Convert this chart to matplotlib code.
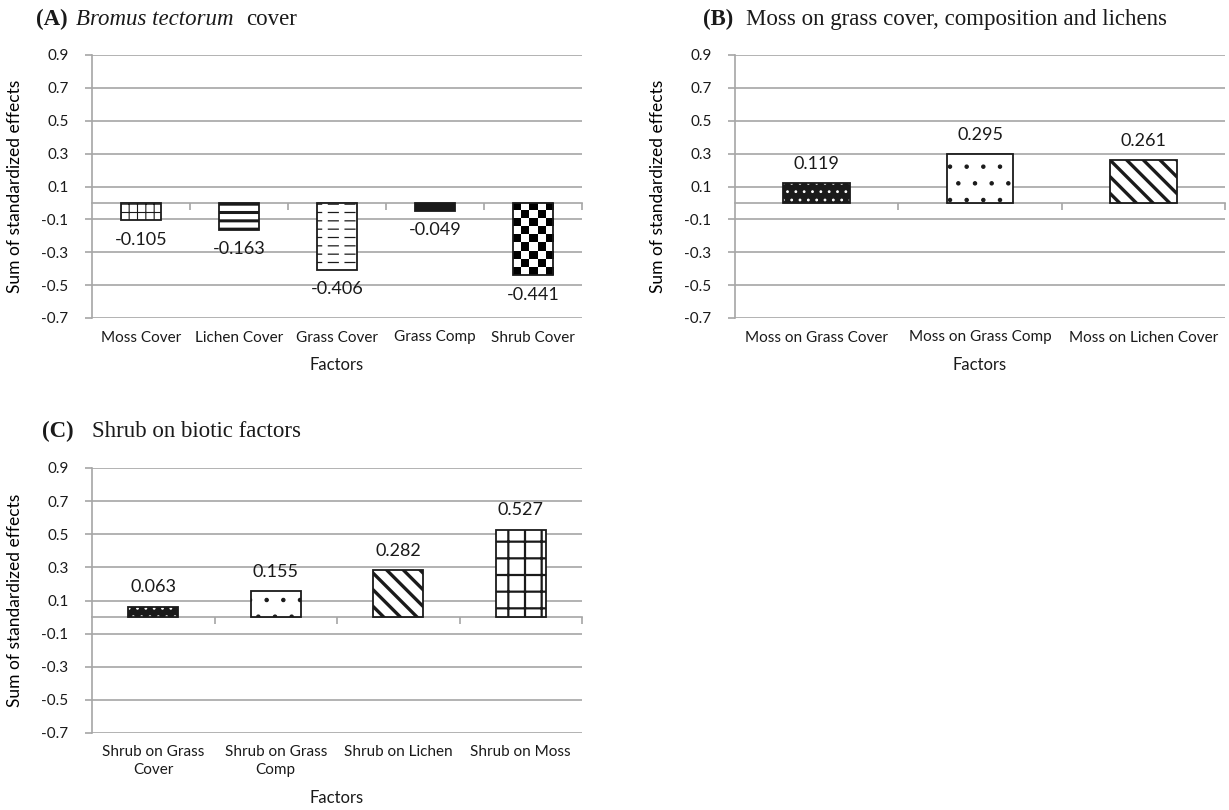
import numpy as np
import matplotlib
matplotlib.use("Agg")
import matplotlib.pyplot as plt

W, H = 1229, 810

INK = "#1a1a1a"
GRID = "#a6a6a6"
SERIF = ["Liberation Serif", "DejaVu Serif"]
plt.rcParams["font.family"] = ["Lato", "DejaVu Sans"]
plt.rcParams["text.color"] = INK

# (A) Bromus tectorum cover
a_factors = ["Moss Cover", "Lichen Cover", "Grass Cover", "Grass Comp", "Shrub Cover"]
a_values = [-0.105, -0.163, -0.406, -0.049, -0.441]
a_fills = ["smallgrid", "hbars", "dashes", "solid", "checker"]

# (B) moss on grass cover, composition and lichens
b_factors = ["Moss on Grass Cover", "Moss on Grass Comp", "Moss on Lichen Cover"]
b_values = [0.119, 0.295, 0.261]
b_fills = ["darkdots", "dots", "diag"]

# (C) shrub on biotic factors
c_factors = ["Shrub on Grass\nCover", "Shrub on Grass\nComp", "Shrub on Lichen", "Shrub on Moss"]
c_values = [0.063, 0.155, 0.282, 0.527]
c_fills = ["darkdots", "dots", "diag", "grid"]

y_ticks = [0.9, 0.7, 0.5, 0.3, 0.1, -0.1, -0.3, -0.5, -0.7]

BAR_W = 0.41
TITLE_SIZE = 16.5


def px_box(left, top, right, bottom):
    """Axes rectangle from pixel edges (origin top-left)."""
    return [left / W, 1 - bottom / H, (right - left) / W, (bottom - top) / H]


def hatched_bar(ax, x, v, hatch, color, hatch_lw, face="none"):
    with plt.rc_context({"hatch.linewidth": hatch_lw}):
        bar = ax.bar(x, v, BAR_W, facecolor=face, edgecolor=color,
                     hatch=hatch, linewidth=0, zorder=3)[0]
    if hasattr(bar, "set_hatch_linewidth"):
        bar.set_hatch_linewidth(hatch_lw)
    return bar


def checkerboard(ax, bar, ncols=5):
    x0, w = bar.get_x(), bar.get_width()
    y_hi = max(bar.get_y(), bar.get_y() + bar.get_height())
    y_lo = min(bar.get_y(), bar.get_y() + bar.get_height())
    to_px = ax.transData.transform
    px_w = to_px((x0 + w, 0))[0] - to_px((x0, 0))[0]
    px_per_unit = to_px((0, 1))[1] - to_px((0, 0))[1]
    sq = px_w / ncols / px_per_unit
    nrows = int(np.ceil((y_hi - y_lo) / sq))
    board = np.indices((nrows, ncols)).sum(axis=0) % 2
    im = ax.imshow(board, cmap="gray", vmin=0, vmax=1, origin="upper",
                   extent=(x0, x0 + w, y_hi - nrows * sq, y_hi),
                   aspect="auto", interpolation="nearest", zorder=4)
    im.set_clip_path(bar)


def draw_bar(ax, x, v, style):
    if style == "solid":
        ax.bar(x, v, BAR_W, color=INK, linewidth=0, zorder=3)
    elif style == "smallgrid":
        hatched_bar(ax, x, v, "++", INK, 0.8, "white")
    elif style == "grid":
        hatched_bar(ax, x, v, "+", INK, 1.6, "white")
    elif style == "hbars":
        hatched_bar(ax, x, v, "--", INK, 2.2, "white")
    elif style == "dashes":
        hatched_bar(ax, x, v, "--", INK, 0.9, "white")
        hatched_bar(ax, x, v, "|", "white", 4.0)
    elif style == "dots":
        hatched_bar(ax, x, v, ".", INK, 0.8, "white")
    elif style == "darkdots":
        hatched_bar(ax, x, v, "..", "white", 0.8, INK)
    elif style == "diag":
        hatched_bar(ax, x, v, "\\\\", INK, 2.4, "white")
    elif style == "checker":
        bar = ax.bar(x, v, BAR_W, color="white", linewidth=0, zorder=3)[0]
        checkerboard(ax, bar)
    ax.bar(x, v, BAR_W, facecolor="none", edgecolor=INK, linewidth=1.3, zorder=5)


def setup_axes(ax, factors):
    n = len(factors)
    ax.set_xlim(-0.5, n - 0.5)
    ax.set_ylim(-0.7, 0.9)
    ax.set_yticks(y_ticks)
    ax.set_yticklabels([f"{t:.1f}" for t in y_ticks])
    ax.yaxis.grid(True, color=GRID, linewidth=1.2)
    ax.set_axisbelow(True)
    for side in ("top", "right"):
        ax.spines[side].set_visible(False)
    ax.spines["left"].set_color(GRID)
    ax.spines["left"].set_linewidth(1.2)
    ax.spines["bottom"].set_position(("data", 0))
    ax.spines["bottom"].set_color(GRID)
    ax.spines["bottom"].set_linewidth(1.2)
    ax.set_xticks(np.arange(n) + 0.5)
    ax.tick_params(axis="x", labelbottom=False, length=5, color=GRID, width=1.2)
    ax.tick_params(axis="y", length=5, color=GRID, width=1.2, pad=12,
                   labelsize=11, labelcolor=INK)


def draw_panel(box, factors, values, fills, factors_y):
    ax = fig.add_axes(px_box(*box))
    setup_axes(ax, factors)
    for x, (v, style) in enumerate(zip(values, fills)):
        draw_bar(ax, x, v, style)
        offset = 14 if v > 0 else -14
        ax.annotate(f"{v:.3f}", xy=(x, v), xytext=(0, offset),
                    textcoords="offset points", ha="center", va="center",
                    fontsize=13)
    for x, name in enumerate(factors):
        ax.annotate(name, xy=(x, 0), xycoords=ax.get_xaxis_transform(),
                    xytext=(0, -9), textcoords="offset points",
                    ha="center", va="top", fontsize=11, linespacing=1.3)
    ax.text(0.5, factors_y, "Factors", transform=ax.transAxes,
            ha="center", va="center", fontsize=12)
    ax.set_ylabel("Sum of standardized effects", fontsize=12.5)
    ax.yaxis.set_label_coords(-0.14, 0.5)
    # imshow may touch the limits
    ax.set_xlim(-0.5, len(factors) - 0.5)
    ax.set_ylim(-0.7, 0.9)
    return ax


def panel_title(x_tag, x_text, y, tag, text, italic_lead=None):
    """Bold serif tag followed by the description; optional italic lead-in."""
    fig.text(x_tag / W, 1 - y / H, tag, family=SERIF, weight="bold",
             fontsize=TITLE_SIZE, va="baseline")
    if italic_lead is None:
        fig.text(x_text / W, 1 - y / H, text, family=SERIF,
                 fontsize=TITLE_SIZE, va="baseline")
        return
    lead = fig.text(x_text / W, 1 - y / H, italic_lead, family=SERIF,
                    style="italic", fontsize=TITLE_SIZE, va="baseline")
    fig.texts.append(plt.Annotation(text, xy=(1, 0), xycoords=lead,
                                    xytext=(9, 0), textcoords="offset points",
                                    family=SERIF, fontsize=TITLE_SIZE,
                                    va="bottom", ha="left"))
    fig.texts[-1].set_figure(fig)


fig = plt.figure(figsize=(W / 100, H / 100), dpi=100)

draw_panel((92, 55, 582, 318), a_factors, a_values, a_fills, -0.18)
draw_panel((735, 55, 1225, 318), b_factors, b_values, b_fills, -0.18)
draw_panel((92, 468, 582, 733), c_factors, c_values, c_fills, -0.247)

panel_title(36, 76, 25, "(A)", "cover", italic_lead="Bromus tectorum")
panel_title(703, 746, 25, "(B)", "Moss on grass cover, composition and lichens")
panel_title(42, 92, 437, "(C)", "Shrub on biotic factors")

fig.savefig("out.png", dpi=100)
